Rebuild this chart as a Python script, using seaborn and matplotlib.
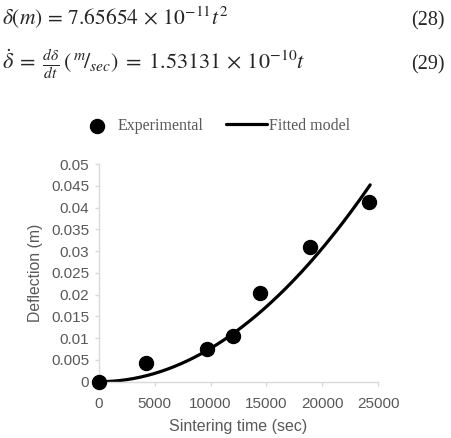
import matplotlib
matplotlib.use("Agg")
import matplotlib.pyplot as plt
import numpy as np
import pandas as pd
import seaborn as sns

time_sec = [0, 4200, 9650, 12050, 14430, 18900, 24220]
deflection_m = [0.0, 0.0042, 0.0074, 0.0106, 0.0204, 0.0310, 0.0413]

# fitted model from eq. (28)
fit_coef = 7.65654e-11
fit_t_end = 24300

x_ticks = [0, 5000, 10000, 15000, 20000, 25000]
y_ticks = [0, 0.005, 0.01, 0.015, 0.02, 0.025, 0.03, 0.035, 0.04, 0.045, 0.05]
y_tick_labels = ["0", "0.005", "0.01", "0.015", "0.02", "0.025",
                 "0.03", "0.035", "0.04", "0.045", "0.05"]

sns.set_theme(style="white")
plt.rcParams["font.family"] = ["Liberation Sans", "DejaVu Sans"]
plt.rcParams["mathtext.fontset"] = "stix"

GRAY = "#595959"
AXIS = "#d9d9d9"
W, H = 451, 438

points = pd.DataFrame({"time": time_sec, "deflection": deflection_m})
t_fit = np.linspace(0, fit_t_end, 200)
fitted = pd.DataFrame({"time": t_fit, "deflection": fit_coef * t_fit ** 2})

fig = plt.figure(figsize=(W / 100, H / 100), dpi=100)
ax = fig.add_axes([99 / W, 1 - 381.7 / H, 279 / W, 217.7 / H])

sns.lineplot(data=fitted, x="time", y="deflection", color="black", linewidth=2.3,
             ax=ax, label="Fitted model", zorder=2)
sns.scatterplot(data=points, x="time", y="deflection", color="black", s=105,
                edgecolor="black", ax=ax, label="Experimental", zorder=3, clip_on=False)

ax.set_xlim(0, 25000)
ax.set_ylim(0, 0.05)
ax.set_xticks(x_ticks)
ax.set_xticklabels([str(v) for v in x_ticks])
ax.set_yticks(y_ticks)
ax.set_yticklabels(y_tick_labels)
ax.tick_params(axis="both", colors=AXIS, labelcolor=GRAY, labelsize=11,
               length=3, width=1, direction="out", bottom=True, left=True)
ax.tick_params(axis="x", pad=8)
ax.tick_params(axis="y", pad=4)
for side in ["top", "right"]:
    ax.spines[side].set_visible(False)
for side in ["left", "bottom"]:
    ax.spines[side].set_color(AXIS)
    ax.spines[side].set_linewidth(1)

ax.set_xlabel("Sintering time (sec)", color=GRAY, fontsize=11.5, labelpad=6)
ax.set_ylabel("Deflection (m)", color=GRAY, fontsize=11.3, labelpad=6)

# legend: two pieces so each handle sits where the original has it
handles, labels = ax.get_legend_handles_labels()
h = dict(zip(labels, handles))
leg_font = {"family": "Liberation Serif", "size": 11.5}
leg1 = fig.legend([h["Experimental"]], ["Experimental"], loc="center left",
                  bbox_to_anchor=(85 / W, 1 - 126 / H), frameon=False,
                  handlelength=1.5, handletextpad=0.55, borderpad=0, borderaxespad=0,
                  prop=leg_font)
leg2 = fig.legend([h["Fitted model"]], ["Fitted model"], loc="center left",
                  bbox_to_anchor=(226 / W, 1 - 126 / H), frameon=False,
                  handlelength=2.56, handletextpad=0.12, borderpad=0, borderaxespad=0,
                  prop=leg_font)
for leg in (leg1, leg2):
    for txt in leg.get_texts():
        txt.set_color(GRAY)
ax.get_legend().remove()

fig.text(0.004, 1 - 25 / H, r"$\delta(m)\, =\, 7.65654\, \times\, 10^{-11}t^2$",
         fontsize=15.5, ha="left", va="baseline")
fig.text(0.004, 1 - 69 / H,
         r"$\dot{\delta}\; =\; \frac{d\delta}{dt}\,(\,{}^{m}\!/_{sec})\; =\; 1.53131\, \times\, 10^{-10}t$",
         fontsize=16, ha="left", va="baseline")
fig.text(445 / W, 1 - 25 / H, "(28)", family="Liberation Serif", fontsize=14.5,
         ha="right", va="baseline")
fig.text(445 / W, 1 - 69 / H, "(29)", family="Liberation Serif", fontsize=14.5,
         ha="right", va="baseline")

fig.savefig("out.png", dpi=100)
